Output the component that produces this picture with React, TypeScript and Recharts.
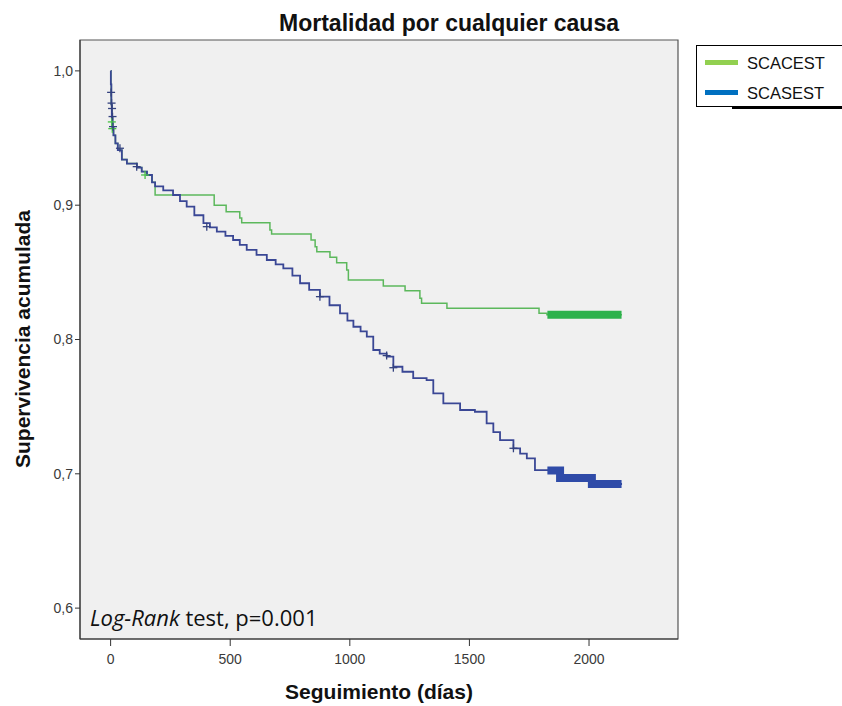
import React from "react";
import {
  ComposedChart,
  Line,
  Scatter,
  XAxis,
  YAxis,
  CartesianGrid,
  ReferenceArea,
  Legend,
} from "recharts";

const seriesNames = ["SCACEST", "SCASEST"];
const legendColors = ["#92D050", "#0070C0"];

// SCACEST (green) Kaplan-Meier steps
const greenDays = [0, 1, 3, 5, 8, 12, 20, 30, 47, 68, 110, 130, 152, 173, 186, 433, 483, 540, 548, 666, 673, 838, 855, 862, 917, 945, 987, 994, 1140, 1231, 1293, 1300, 1406, 1791, 1824, 2138];
const greenSurv = [1.0, 0.99, 0.975, 0.965, 0.958, 0.952, 0.946, 0.941, 0.934, 0.931, 0.928, 0.925, 0.9225, 0.917, 0.9076, 0.9, 0.8952, 0.8905, 0.887, 0.8816, 0.8786, 0.8741, 0.8691, 0.8654, 0.8612, 0.8572, 0.8518, 0.8443, 0.8398, 0.8363, 0.8307, 0.827, 0.8232, 0.8195, 0.8185, 0.8185];

// SCASEST (blue) Kaplan-Meier steps
const blueDays = [0, 1, 3, 5, 8, 12, 20, 30, 47, 68, 110, 130, 152, 173, 186, 220, 261, 290, 318, 350, 388, 415, 444, 480, 512, 540, 569, 610, 653, 690, 722, 760, 792, 830, 875, 915, 959, 990, 1015, 1045, 1071, 1098, 1125, 1154, 1182, 1220, 1265, 1321, 1349, 1391, 1461, 1523, 1572, 1600, 1628, 1684, 1712, 1740, 1774, 1879, 2012, 2138];
const blueSurv = [1.0, 0.99, 0.975, 0.965, 0.958, 0.952, 0.946, 0.941, 0.934, 0.931, 0.928, 0.925, 0.9225, 0.917, 0.914, 0.911, 0.9076, 0.903, 0.8989, 0.8925, 0.8866, 0.8835, 0.8803, 0.8772, 0.8741, 0.8705, 0.8667, 0.863, 0.8592, 0.856, 0.853, 0.8475, 0.8419, 0.837, 0.8319, 0.8255, 0.8195, 0.814, 0.8095, 0.806, 0.8021, 0.7922, 0.7895, 0.7872, 0.7797, 0.776, 0.7713, 0.7698, 0.7599, 0.7525, 0.7475, 0.7462, 0.7376, 0.731, 0.7251, 0.719, 0.715, 0.7115, 0.7028, 0.6968, 0.6924, 0.6924];

// censored observations
const greenCensorDays = [5, 7, 144];
const greenCensorSurv = [0.962, 0.957, 0.9225];
const blueCensorDays = [2, 4, 6, 8, 10, 39, 109, 402, 875, 1154, 1182, 1684];
const blueCensorSurv = [0.984, 0.976, 0.972, 0.966, 0.9585, 0.9424, 0.9287, 0.884, 0.8319, 0.788, 0.779, 0.719];

// dense censoring at end of follow-up
const greenBandDays = [1826, 2136];
const greenBandSurv = [0.8185, 0.8185];
const blueBandDays = [1826, 1879, 2012, 2136];
const blueBandSurv = [0.7025, 0.6968, 0.6924, 0.6924];

const xTicks = [0, 500, 1000, 1500, 2000];
const yTicks = [0.6, 0.7, 0.8, 0.9, 1.0];
const xDomain = [-128, 2372];
const yDomain = [0.577, 1.023];

const toRows = (days: number[], surv: number[]) =>
  days.map((d, i) => ({ day: d, surv: surv[i] }));

const greenData = toRows(greenDays, greenSurv);
const blueData = toRows(blueDays, blueSurv);
const greenCensor = toRows(greenCensorDays, greenCensorSurv);
const blueCensor = toRows(blueCensorDays, blueCensorSurv);
const greenBand = toRows(greenBandDays, greenBandSurv);
const blueBand = toRows(blueBandDays, blueBandSurv);

const makeCross = (color: string) => (props: any) => {
  const { cx, cy } = props;
  return (
    <g stroke={color} strokeWidth={1.3}>
      <line x1={cx - 4} x2={cx + 4} y1={cy} y2={cy} />
      <line x1={cx} x2={cx} y1={cy - 4} y2={cy + 4} />
    </g>
  );
};

const YTitle = () => (
  <text
    x={22}
    y={339}
    transform="rotate(-90 22 339)"
    textAnchor="middle"
    dominantBaseline="central"
    fontFamily="Liberation Sans, Arial, sans-serif"
    fontWeight="bold"
    fontSize={21}
    fill="#111"
  >
    Supervivencia acumulada
  </text>
);

const XTitle = () => (
  <text
    x={379}
    y={699}
    textAnchor="middle"
    fontFamily="Liberation Sans, Arial, sans-serif"
    fontWeight="bold"
    fontSize={21}
    fill="#111"
  >
    Seguimiento (días)
  </text>
);

const renderLegend = () => (
  <div
    style={{
      position: "relative",
      width: 150,
      height: 62,
      boxSizing: "border-box",
      border: "1.5px solid #000",
      background: "#fff",
      fontFamily: "Liberation Sans, Arial, sans-serif",
      fontSize: 16.5,
      color: "#111",
    }}
  >
    {seriesNames.map((name, i) => (
      <div key={name}>
        <div
          style={{
            position: "absolute",
            left: 8,
            top: 14 + i * 30,
            width: 33,
            height: 5,
            background: legendColors[i],
          }}
        />
        <div
          style={{
            position: "absolute",
            left: 50,
            top: 7 + i * 30,
            lineHeight: "20px",
          }}
        >
          {name}
        </div>
      </div>
    ))}
    <div
      style={{
        position: "absolute",
        left: 35,
        bottom: -3,
        width: 120,
        height: 3,
        background: "#000",
      }}
    />
  </div>
);

const tickStyle = {
  fontFamily: "Liberation Sans, Arial, sans-serif",
  fontSize: 14,
  fill: "#3a3a3a",
};

export default function App() {
  return (
    <div
      style={{
        position: "absolute",
        left: 0,
        top: 0,
        width: 842,
        height: 706,
        overflow: "hidden",
        background: "#fff",
      }}
    >
      <div
        style={{
          position: "absolute",
          left: 0,
          width: 898,
          top: 10,
          textAlign: "center",
          fontFamily: "Liberation Sans, Arial, sans-serif",
          fontWeight: "bold",
          fontSize: 23,
          lineHeight: "27px",
          color: "#111",
        }}
      >
        Mortalidad por cualquier causa
      </div>
      <ComposedChart
        width={842}
        height={706}
        margin={{ top: 40, right: 164, bottom: 0, left: 0 }}
      >
        <CartesianGrid horizontal={false} vertical={false} fill="#F0F0F0" />
        <XAxis
          dataKey="day"
          type="number"
          domain={xDomain}
          ticks={xTicks}
          allowDataOverflow
          height={67}
          tickSize={7}
          tickMargin={8}
          tick={tickStyle}
          stroke="#333"
          label={<XTitle />}
        />
        <YAxis
          dataKey="surv"
          type="number"
          domain={yDomain}
          ticks={yTicks}
          allowDataOverflow
          width={80}
          tickSize={5}
          tickMargin={2}
          tick={tickStyle}
          stroke="#333"
          tickFormatter={(v: number) => v.toFixed(1).replace(".", ",")}
          label={<YTitle />}
        />
        <ReferenceArea
          x1={xDomain[0]}
          x2={xDomain[1]}
          y1={yDomain[0]}
          y2={yDomain[1]}
          fill="none"
          stroke="#555"
          strokeWidth={1.2}
        />
        <Line
          data={greenData}
          dataKey="surv"
          type="stepAfter"
          stroke="#5CB85C"
          strokeWidth={1.5}
          dot={false}
          isAnimationActive={false}
          name={seriesNames[0]}
        />
        <Line
          data={blueData}
          dataKey="surv"
          type="stepAfter"
          stroke="#3A4795"
          strokeWidth={1.8}
          dot={false}
          isAnimationActive={false}
          name={seriesNames[1]}
        />
        <Line
          data={greenBand}
          dataKey="surv"
          type="stepAfter"
          stroke="#2DB24C"
          strokeWidth={8}
          dot={false}
          isAnimationActive={false}
          legendType="none"
        />
        <Line
          data={blueBand}
          dataKey="surv"
          type="stepAfter"
          stroke="#2F4BA8"
          strokeWidth={8}
          dot={false}
          isAnimationActive={false}
          legendType="none"
        />
        <Scatter
          data={greenCensor}
          dataKey="surv"
          shape={makeCross("#46C046")}
          isAnimationActive={false}
          legendType="none"
        />
        <Scatter
          data={blueCensor}
          dataKey="surv"
          shape={makeCross("#34427F")}
          isAnimationActive={false}
          legendType="none"
        />
        <Legend
          layout="vertical"
          align="center"
          verticalAlign="middle"
          content={renderLegend}
          wrapperStyle={{ left: 696, top: 45, width: 150, height: 62 }}
        />
      </ComposedChart>
      <div
        style={{
          position: "absolute",
          left: 90,
          top: 603,
          fontFamily: "Open Sans, sans-serif",
          fontSize: 22,
          lineHeight: "28px",
          color: "#111",
          whiteSpace: "nowrap",
        }}
      >
        <i>Log-Rank</i> test, p=0.001
      </div>
    </div>
  );
}
